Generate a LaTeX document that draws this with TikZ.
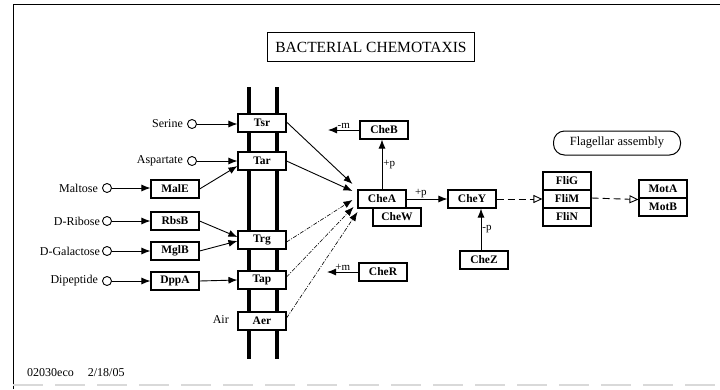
\documentclass[tikz,border=0pt]{standalone}
\usepackage{fontspec}
\setmainfont{Liberation Serif}
\usetikzlibrary{arrows.meta}
\begin{document}
\begin{tikzpicture}[x=1pt,y=-1pt,
 gene/.style={draw, line width=1.1pt, fill=white, minimum width=48pt, minimum height=18pt, inner sep=0pt, font=\bfseries\fontsize{11.5}{12}\selectfont},
 lig/.style={draw, circle, line width=0.9pt, minimum size=9pt, inner sep=0pt},
 lbl/.style={font=\fontsize{12}{13}\selectfont, inner sep=1pt},
 sm/.style={font=\fontsize{11}{12}\selectfont, inner sep=1pt},
 act/.style={line width=0.9pt, -{Latex[length=9pt,width=7pt]}},
 dact/.style={line width=0.6pt, dash pattern=on 4pt off 1.5pt on 1pt off 1.5pt, -{Latex[length=9pt,width=7pt]}},
 expr/.style={line width=0.9pt, dash pattern=on 7pt off 4pt, -{Triangle[open,length=9pt,width=8pt,line width=0.9pt]}},
 mem/.style={line width=3.2pt},
]
\useasboundingbox (0,0) rectangle (720,389);
% frame
\draw[line width=1pt] (13,389) -- (13,4) -- (720,4);
\draw[black!15, line width=1.5pt, dash pattern=on 30pt off 12pt] (13,385) -- (720,385);
% title
\node[draw, line width=1.2pt, minimum width=207pt, minimum height=29pt, inner sep=0pt, font=\fontsize{15.5}{16}\selectfont] (title) at (371,47) {BACTERIAL CHEMOTAXIS};
% membrane
\draw[mem] (249,87) -- (249,359);
\draw[mem] (277,87) -- (277,359);
% receptors
\node[gene] (Tsr) at (262,123) {Tsr};
\node[gene] (Tar) at (262,161) {Tar};
\node[gene] (Trg) at (262,240) {Trg};
\node[gene] (Tap) at (262,280) {Tap};
\node[gene] (Aer) at (262,321) {Aer};
\node[lbl, anchor=east] (air) at (230,320) {Air};
% periplasmic binding proteins
\node[gene] (MalE) at (175,189) {MalE};
\node[gene] (RbsB) at (175,221) {RbsB};
\node[gene] (MglB) at (175,251) {MglB};
\node[gene] (DppA) at (175,281) {DppA};
% ligands
\node[lig] (ser) at (192,124) {};
\node[lig] (asp) at (192,161) {};
\node[lig] (mal) at (107,188) {};
\node[lig] (rib) at (107,221) {};
\node[lig] (gal) at (107,251) {};
\node[lig] (dip) at (107,281) {};
\node[lbl, anchor=east, xshift=-3pt] (serL) at (ser.west) {Serine};
\node[lbl, anchor=east, xshift=-3pt] (aspL) at (asp.west) {Aspartate};
\node[lbl, anchor=east, xshift=-3pt] (malL) at (mal.west) {Maltose};
\node[lbl, anchor=east, xshift=-1pt] (ribL) at (rib.west) {D-Ribose};
\node[lbl, anchor=east, xshift=-1pt] (galL) at (gal.west) {D-Galactose};
\node[lbl, anchor=east, xshift=-3pt] (dipL) at (dip.west) {Dipeptide};
\draw[act] (ser) -- (Tsr.west |- ser);
\draw[act] (asp) -- (Tar.west |- asp);
\draw[act] (mal) -- (MalE.west |- mal);
\draw[act] (rib) -- (RbsB.west |- rib);
\draw[act] (gal) -- (MglB.west |- gal);
\draw[act] (dip) -- (DppA.west |- dip);
\draw[act] (MalE.east) -- ([yshift=-5pt]Tar.west);
\draw[act] (RbsB.east) -- ([yshift=3pt]Trg.west);
\draw[act] (MglB.east) -- ([yshift=-1pt]Trg.west);
\draw[act] (DppA.east) -- (Tap.west);
% cytoplasm
\node[gene] (CheA) at (382,199) {CheA};
\node[gene] (CheW) at (397,217) {CheW};
\node[gene] (CheB) at (384,130) {CheB};
\node[gene] (CheR) at (383,272) {CheR};
\node[gene] (CheY) at (472,199) {CheY};
\node[gene] (CheZ) at (484,260) {CheZ};
\coordinate (bm) at (328,130);
\coordinate (rm) at (327,272);
\draw[act] ([yshift=1pt]Tsr.east) -- ([xshift=-5pt,yshift=15pt]CheA.west);
\draw[act] (Tar.east) -- ([xshift=-5pt,yshift=8pt]CheA.west);
\draw[dact] ([yshift=-2pt]Trg.east) -- ([xshift=-5pt,yshift=-1pt]CheA.west);
\draw[dact] ([yshift=3pt]Tap.east) -- ([xshift=-4pt,yshift=-8pt]CheA.west);
\draw[dact] ([yshift=3pt]Aer.east) -- ([xshift=0pt,yshift=-13pt]CheA.west);
\draw[act] (CheA.north) -- node[sm, right] {+p} (CheB.south -| CheA.north);
\draw[act] (CheB.west) -- node[sm, above] {-m} (bm);
\draw[act] (CheR.west) -- node[sm, above] {+m} (rm);
\draw[act] (CheA.east) -- node[sm, above, pos=0.35] {+p} (CheY.west);
\draw[act] ([xshift=-3pt]CheZ.north) -- node[sm, right] {-p} ([xshift=9pt]CheY.south);
% flagellar motor
\node[gene] (FliG) at (567,181) {FliG};
\node[gene] (FliM) at (567,199) {FliM};
\node[gene] (FliN) at (567,217) {FliN};
\node[gene] (MotA) at (663,189) {MotA};
\node[gene] (MotB) at (663,207) {MotB};
\draw[expr] (CheY.east) -- (FliM.west);
\draw[expr] ([yshift=1pt]FliM.east) -- ([yshift=-1pt]MotA.south west);
\node[draw, line width=1pt, rounded corners=11pt, minimum width=127pt, minimum height=24pt, inner sep=0pt, font=\fontsize{12.5}{13}\selectfont] (flag) at (617,143) {Flagellar assembly};
% footer
\node[lbl, anchor=west, font=\fontsize{12}{13}\selectfont] (foot) at (26,373) {02030eco\hspace{14pt}2/18/05};
\end{tikzpicture}
\end{document}
